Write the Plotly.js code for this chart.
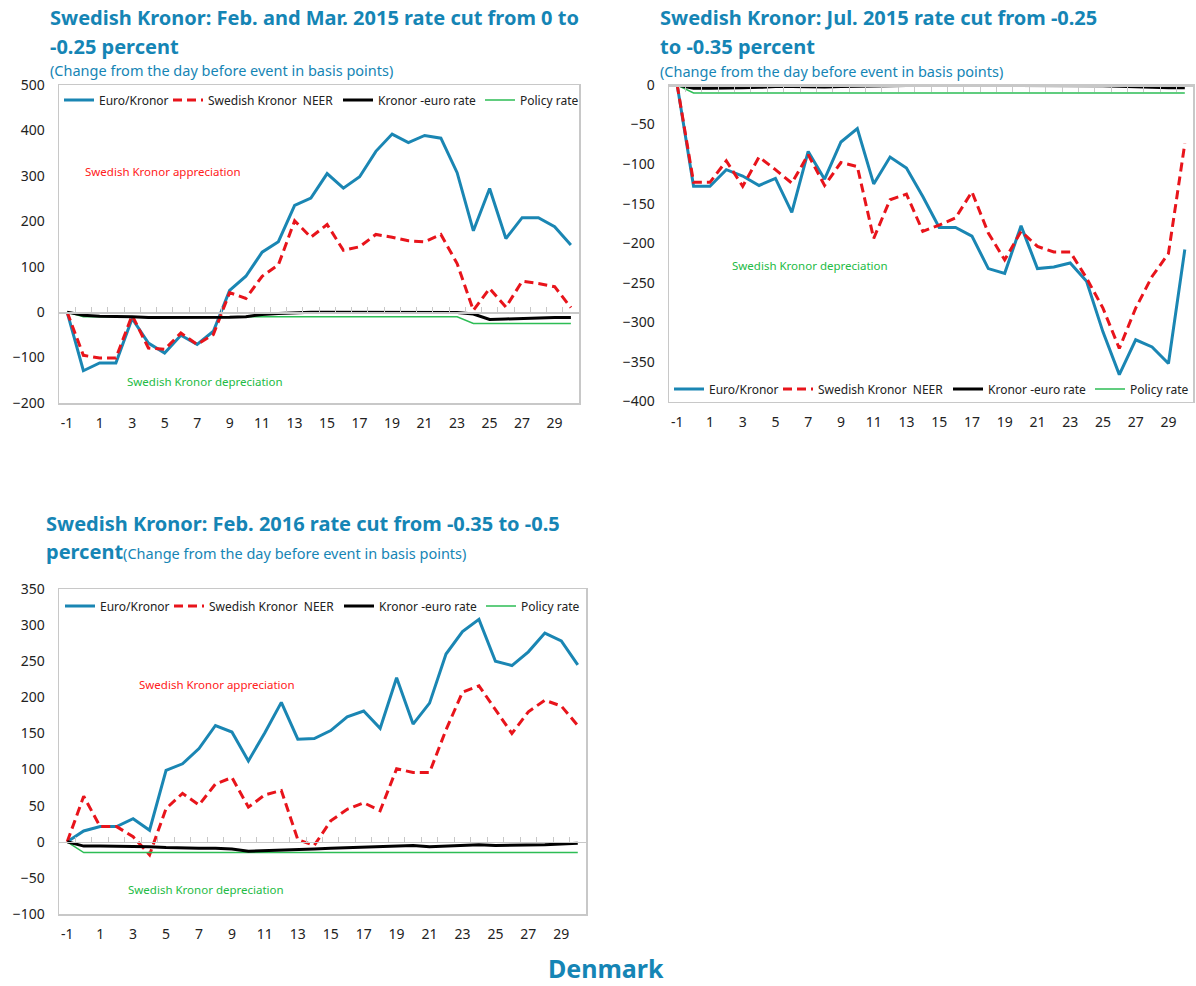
<!DOCTYPE html>
<html>
<head>
<meta charset="utf-8">
<script src="https://cdn.plot.ly/plotly-3.0.1.min.js"></script>
<style>html,body{margin:0;padding:0;background:#fff;overflow:hidden;}#chart{width:1196px;height:986px;}</style>
</head>
<body>
<div id="chart"></div>
<script>
// ---------- DATA ----------
const days = [-1,0,1,2,3,4,5,6,7,8,9,10,11,12,13,14,15,16,17,18,19,20,21,22,23,24,25,26,27,28,29,30];
const xTickLabels = [-1,1,3,5,7,9,11,13,15,17,19,21,23,25,27,29];
const seriesNames = ["Euro/Kronor", "Swedish Kronor\u00a0\u00a0NEER", "Kronor -euro rate", "Policy rate"];

// Panel 1: Feb/Mar 2015 cut
const p1Euro   = [0,-129,-112,-112,-14,-68,-90,-51,-71,-42,48,79,132,155,235,251,305,273,298,354,392,373,389,383,307,179,272,162,208,208,188,148];
const p1Neer   = [0,-95,-101,-101,-7,-79,-82,-46,-71,-49,43,30,79,104,201,165,193,136,144,171,165,157,155,171,107,4,52,11,68,63,56,10];
const p1Rate   = [0,-7,-9,-9,-10,-12,-12,-12,-11,-11,-11,-10,-5,-3,-1,0,0,0,0,0,0,0,0,0,-1,-4,-16,-15,-14,-12,-12,-12];
const p1Policy = [0,-10,-10,-10,-10,-10,-10,-10,-10,-10,-10,-10,-10,-10,-10,-10,-10,-10,-10,-10,-10,-10,-10,-10,-10,-25,-25,-25,-25,-25,-25,-25];

// Panel 2: Jul 2015 cut
const p2Euro   = [0,-128,-128,-107,-115,-127,-118,-161,-84,-119,-72,-55,-125,-91,-105,-141,-180,-180,-191,-232,-238,-178,-232,-230,-225,-248,-312,-366,-322,-331,-352,-208];
const p2Neer   = [0,-123,-123,-96,-128,-91,-107,-124,-88,-127,-98,-103,-194,-145,-138,-185,-177,-168,-135,-187,-221,-185,-204,-211,-211,-244,-282,-333,-282,-242,-213,-74];
const p2Rate   = [0,-4,-4,-4,-3.5,-3,-2,-2,-2.5,-2.5,-2,-1.5,-1.5,-1,-0.5,-0.5,-0.5,-0.5,-1,-1,-0.5,-0.5,-0.5,-0.5,-0.5,-0.5,-1,-1.5,-2.5,-3,-3.5,-3.5];
const p2Policy = [0,-10,-10,-10,-10,-10,-10,-10,-10,-10,-10,-10,-10,-10,-10,-10,-10,-10,-10,-10,-10,-10,-10,-10,-10,-10,-10,-10,-10,-10,-10,-10];

// Panel 3: Feb 2016 cut
const p3Euro   = [0,15,21,21,32,16,99,108,129,161,152,112,151,193,142,143,154,173,181,157,227,163,192,260,291,308,250,244,263,289,278,245];
const p3Neer   = [0,63,21,21,7,-18,46,67,51,80,89,48,65,71,3,-5,29,45,54,43,101,96,96,155,207,216,183,150,180,196,188,161];
const p3Rate   = [0,-6,-6,-6,-6,-7,-8,-9,-9,-9,-10,-13,-12,-11,-10,-10,-9,-8,-8,-7,-6,-5,-7,-6,-5,-4,-5,-5,-4,-4,-3,-2];
const p3Policy = [0,-15,-15,-15,-15,-15,-15,-15,-15,-15,-15,-15,-15,-15,-15,-15,-15,-15,-15,-15,-15,-15,-15,-15,-15,-15,-15,-15,-15,-15,-15,-15];

// ---------- STYLE / LAYOUT ----------
const W = 1196, H = 986;
const px = v => v / W;
const py = v => 1 - v / H;
const FONT = "Noto Sans, Open Sans, sans-serif";
const TEAL = "#1585b5";
const C_EURO = "#1a86b3", C_NEER = "#e8141b", C_RATE = "#000000", C_POL = "#2dbd55";
const legendWidths = [64, 125, 97, 60];

const panels = [
  {euro:p1Euro, neer:p1Neer, rate:p1Rate, pol:p1Policy, xd:[59,579], yd:[85,403], yr:[-200,500], dtick:100, legend:"legend", legendX:59, legendY:100, ov:"x4", zside:"bottom"},
  {euro:p2Euro, neer:p2Neer, rate:p2Rate, pol:p2Policy, xd:[669,1193], yd:[85,401.5], yr:[-400,0], dtick:50, legend:"legend2", legendX:669, legendY:389, ov:"x5", zside:"top"},
  {euro:p3Euro, neer:p3Neer, rate:p3Rate, pol:p3Policy, xd:[59,586], yd:[589,914], yr:[-100,350], dtick:50, legend:"legend3", legendX:60, legendY:606, ov:"x6", zside:"bottom"}
];

const data = [];
const layout = {
  width: W, height: H,
  margin: {l:0, r:0, t:0, b:0, autoexpand: false},
  paper_bgcolor: "#fff", plot_bgcolor: "#fff",
  font: {family: FONT, size: 13, color: "#222"},
  annotations: [],
  showlegend: true
};

panels.forEach((p, i) => {
  const n = i + 1;
  const xa = n === 1 ? "x" : "x" + n;
  const ya = n === 1 ? "y" : "y" + n;
  const xKey = n === 1 ? "xaxis" : "xaxis" + n;
  const yKey = n === 1 ? "yaxis" : "yaxis" + n;
  const ovKey = "xaxis" + p.ov.slice(1);

  data.push({x: days, y: p.euro, type: "scatter", mode: "lines", name: seriesNames[0],
    line: {color: C_EURO, width: 3}, xaxis: xa, yaxis: ya, legend: p.legend, legendrank: 1, legendwidth: legendWidths[0], hoverinfo: "skip"});
  data.push({x: days, y: p.neer, type: "scatter", mode: "lines", name: seriesNames[1],
    line: {color: C_NEER, width: 3, dash: "9px,5px"}, xaxis: xa, yaxis: ya, legend: p.legend, legendrank: 2, legendwidth: legendWidths[1], hoverinfo: "skip"});
  data.push({x: days, y: p.pol, type: "scatter", mode: "lines", name: seriesNames[3],
    line: {color: C_POL, width: 1.5}, xaxis: p.ov, yaxis: ya, legend: p.legend, legendrank: 4, legendwidth: legendWidths[3], hoverinfo: "skip"});
  data.push({x: days, y: p.rate, type: "scatter", mode: "lines", name: seriesNames[2],
    line: {color: C_RATE, width: 3}, xaxis: p.ov, yaxis: ya, legend: p.legend, legendrank: 3, legendwidth: legendWidths[2], hoverinfo: "skip"});

  const yDom = [py(p.yd[1]), py(p.yd[0])];
  const xDom = [px(p.xd[0]), px(p.xd[1])];
  const xr = [-1.5, 30.5];

  layout[xKey] = {
    domain: xDom, anchor: ya, range: xr, fixedrange: true,
    tickmode: "array", tickvals: xTickLabels, ticktext: xTickLabels.map(String),
    ticks: "outside", ticklen: 7, tickcolor: "rgba(0,0,0,0)",
    showline: true, mirror: true, linecolor: "#c8c8c8", linewidth: 1.5,
    showgrid: false, zeroline: false,
    tickfont: {family: FONT, size: 14, color: "#222"}
  };
  layout[yKey] = {
    domain: yDom, anchor: xa, range: p.yr, fixedrange: true, dtick: p.dtick,
    ticks: "outside", ticklen: 10, tickcolor: "rgba(0,0,0,0)",
    showline: true, mirror: true, linecolor: "#c8c8c8", linewidth: 1.5,
    showgrid: false, zeroline: false,
    tickfont: {family: FONT, size: 14, color: "#222"}
  };
  const zeroFrac = (0 - p.yr[0]) / (p.yr[1] - p.yr[0]);
  const tv = [];
  for (let k = -1.5; k <= 30.5; k += 1) tv.push(k);
  layout[ovKey] = {
    overlaying: xa, anchor: "free", side: p.zside,
    position: yDom[0] + zeroFrac * (yDom[1] - yDom[0]),
    range: xr, fixedrange: true,
    tickmode: "array", tickvals: tv, showticklabels: false,
    ticks: "inside", ticklen: 5, tickcolor: "#c8c8c8", tickwidth: 1,
    showline: true, linecolor: "#c8c8c8", linewidth: 1.5,
    showgrid: false, zeroline: false
  };
  layout[p.legend] = {
    orientation: "h", x: px(p.legendX), y: py(p.legendY), xanchor: "left", yanchor: "middle",
    bgcolor: "rgba(0,0,0,0)", font: {family: FONT, size: 12, color: "#222"},
    traceorder: "normal", itemwidth: 30, tracegroupgap: 0
  };
});

function note(text, x, y, size, color, bold, anchor) {
  layout.annotations.push({
    text: bold ? "<b>" + text + "</b>" : text,
    xref: "paper", yref: "paper", x: px(x), y: py(y),
    xanchor: anchor || "left", yanchor: "middle", showarrow: false,
    font: {family: FONT, size: size, color: color}
  });
}

// Titles
note("Swedish Kronor: Feb. and Mar. 2015 rate cut from 0 to", 48, 18, 20, TEAL, true);
note("-0.25 percent", 48, 46, 20, TEAL, true);
note("(Change from the day before event in basis points)", 48, 70, 14.5, TEAL, false);
note("Swedish Kronor: Jul. 2015 rate cut from -0.25", 658, 18, 20, TEAL, true);
note("to -0.35 percent", 658, 46, 20, TEAL, true);
note("(Change from the day before event in basis points)", 658, 71, 14.5, TEAL, false);
note("Swedish Kronor: Feb. 2016 rate cut from -0.35 to -0.5", 44, 523, 20, TEAL, true);
layout.annotations.push({
  text: "<b>percent</b><span style='font-size:14.5px'>(Change from the day before event in basis points)</span>",
  xref: "paper", yref: "paper", x: px(44), y: py(551), xanchor: "left", yanchor: "middle", showarrow: false,
  font: {family: FONT, size: 20, color: TEAL}
});

// In-plot notes
note("Swedish Kronor appreciation", 163, 172, 11.5, "#ff2020", false, "center");
note("Swedish Kronor depreciation", 205, 381, 11.5, "#22bb44", false, "center");
note("Swedish Kronor depreciation", 810, 265, 11.5, "#22bb44", false, "center");
note("Swedish Kronor appreciation", 217, 684, 11.5, "#ff2020", false, "center");
note("Swedish Kronor depreciation", 206, 889, 11.5, "#22bb44", false, "center");

// Footer
note("Denmark", 606, 968, 25, TEAL, true, "center");

Plotly.newPlot("chart", data, layout, {staticPlot: true, displayModeBar: false});
</script>
</body>
</html>
